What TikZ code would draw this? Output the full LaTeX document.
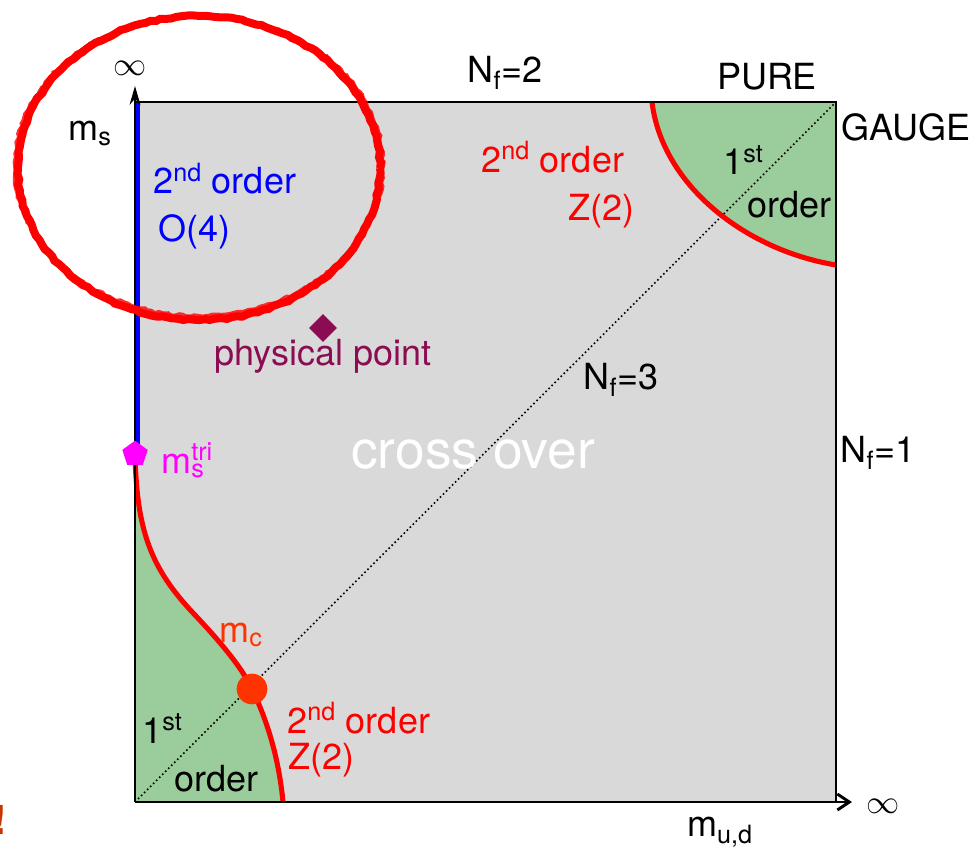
\documentclass[tikz,border=0pt]{standalone}
\usepackage{fontspec}
\setmainfont{TeX Gyre Heros}
\usetikzlibrary{arrows.meta,shapes.geometric,decorations.pathmorphing}
\definecolor{bgray}{RGB}{217,217,217}
\definecolor{fgreen}{RGB}{155,204,155}
\definecolor{pcol}{RGB}{139,12,82}
\definecolor{mccol}{RGB}{255,51,0}
\definecolor{excl}{RGB}{204,51,0}
\definecolor{pmag}{RGB}{255,0,255}
\tikzset{
  lab/.style={inner sep=0pt, font=\fontsize{27}{30}\selectfont},
  redline/.style={draw=red, line width=3.8pt},
}
\newcommand{\sth}[1]{\textsuperscript{#1}}
\begin{document}
\begin{tikzpicture}[x=0.75pt,y=-0.75pt]
\useasboundingbox (0,0) rectangle (979,849);
\coordinate (O) at (135,802);
\coordinate (TL) at (135,102);
\coordinate (TR) at (836,102);
\coordinate (BR) at (836,802);
\coordinate (Ytip) at (135,86);
\coordinate (Xtip) at (852,802);
% background
\fill[bgray] (O) rectangle (TR);
% green regions
\fill[fgreen] (135,455) .. controls (137,530) and (150,568) .. (195,615)
   .. controls (228,650) and (244,672) .. (252,689)
   .. controls (268,722) and (279,760) .. (283,802) -- (O) -- cycle;
\fill[fgreen] (652,102) .. controls (662,185) and (745,250) .. (836,265) -- (TR) -- cycle;
% diagonal
\draw[dotted, line width=1.2pt] (O) -- (TR);
% red transition lines
\draw[redline] (135,455) .. controls (137,530) and (150,568) .. (195,615)
   .. controls (228,650) and (244,672) .. (252,689)
   .. controls (268,722) and (279,760) .. (283,802);
\draw[redline] (652,102) .. controls (662,185) and (745,250) .. (836,265);
% blue line
\draw[blue, line width=3.5pt] (137.5,102) -- (137.5,455);
% axes and frame
\draw[line width=2.2pt] (TL) -- (TR) -- (BR);
\draw[line width=2.2pt, -{Stealth[length=14pt,width=8pt]}] (O) -- (Ytip);
\draw[line width=2.2pt, -{Straight Barb[length=9pt,width=12pt]}] (O) -- (Xtip);
% points
\node[regular polygon, regular polygon sides=5, fill=pmag, inner sep=0pt, minimum size=20pt] (tri) at (135,454) {};
\node[diamond, fill=pcol, inner sep=0pt, minimum size=21pt] (phys) at (323,328) {};
\node[circle, fill=mccol, inner sep=0pt, minimum size=23pt] (mc) at (252,689) {};
% labels
\node[lab] (infy) at (130,68) {$\infty$};
\node[lab] (infx) at (883,806) {$\infty$};
\node[lab] (ms) at (90,133) {m\textsubscript{s}};
\node[lab] (nf2) at (505,73) {N\textsubscript{f}=2};
\node[lab] (pure) at (767,77) {PURE};
\node[lab] (gauge) at (906,127) {GAUGE};
\node[lab] (nf3) at (621,380) {N\textsubscript{f}=3};
\node[lab] (nf1) at (878,453) {N\textsubscript{f}=1};
\node[lab] (mud) at (720,832) {m\textsubscript{u,d}};
\node[lab, text=white, font=\fontsize{40}{44}\selectfont] (cross) at (473,455) {cross over};
\node[lab, text=blue, anchor=base west] (o4a) at (153,194) {2\sth{nd} order};
\node[lab, text=blue, anchor=base west] (o4b) at (158,241) {O(4)};
\node[lab, text=red, anchor=base west] (z2a) at (481,172) {2\sth{nd} order};
\node[lab, text=red, anchor=base west] (z2b) at (568,220) {Z(2)};
\node[lab, anchor=base west] (fa) at (723,175) {1\sth{st}};
\node[lab, anchor=base west] (fb) at (747,217) {order};
\node[lab, text=pcol, anchor=base] (physl) at (323,365) {physical point};
\node[lab, text=pmag, anchor=base west] (trilab) at (161,473) {m\rlap{\textsuperscript{tri}}\textsubscript{s}};
\node[lab, text=mccol, anchor=base west] (mcl) at (219,642) {m\textsubscript{c}};
\node[lab, anchor=base west] (fc) at (142,743) {1\sth{st}};
\node[lab, anchor=base west] (fd) at (174,791) {order};
\node[lab, text=red, anchor=base west] (z2c) at (287,733) {2\sth{nd} order};
\node[lab, text=red, anchor=base west] (z2d) at (288,769) {Z(2)};
\node[lab, text=excl, font=\bfseries\fontsize{30}{34}\selectfont, anchor=base] (ex) at (0,834) {!};
% hand-drawn ellipse
\draw[red, line width=6pt, decorate, decoration={random steps, segment length=4pt, amplitude=0.7pt}]
  (199,168) ellipse [x radius=181, y radius=152];
\draw[red, line width=3pt, opacity=0.8, decorate, decoration={random steps, segment length=3pt, amplitude=1pt}]
  (199,166) ellipse [x radius=184, y radius=150];
\end{tikzpicture}
\end{document}
